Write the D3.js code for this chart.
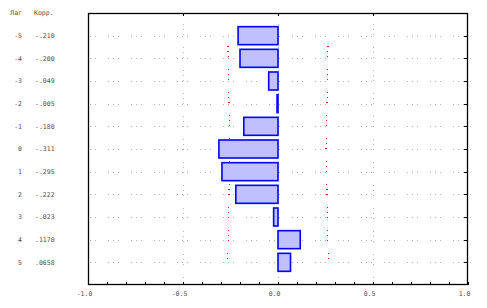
<!DOCTYPE html>
<html><head><meta charset="utf-8">
<script src="https://cdn.jsdelivr.net/npm/d3@7"></script>
<style>body{margin:0;background:#fff}svg{display:block}</style>
</head><body><svg id="c" width="487" height="308"></svg>
<script>
const lags = [-5,-4,-3,-2,-1,0,1,2,3,4,5];
const corrLabels = ["-.210","-.200","-.049","-.005","-.180","-.311","-.295","-.222","-.023",".1170",".0658"];
const corrValues = [-0.210,-0.200,-0.049,-0.005,-0.180,-0.311,-0.295,-0.222,-0.023,0.1170,0.0658];
const confLimits = [0.264,0.262,0.260,0.258,0.256,0.253,0.256,0.258,0.260,0.262,0.266];
const xTicks = [-1.0,-0.5,0.0,0.5,1.0];
const xTickLabels = ["-1.0","-0.5","0.0","0.5","1.0"];
const headers = ["Лаг","Корр."];

const svg = d3.select("#c");
const L=88,R=468,T=13,B=285;
const x = d3.scaleLinear().domain([-1,1]).range([L,R]);
const y = d3.scaleLinear().domain([-6,6]).range([T,B]);
const font = "'DejaVu Sans Mono', monospace";
const txtCol = "#505050";

const dash = "1,4,1,4,1,12";
svg.append("g").selectAll("line").data(lags).join("line")
  .attr("x1",L).attr("x2",R).attr("y1",d=>Math.round(y(d))+0.5).attr("y2",d=>Math.round(y(d))+0.5)
  .attr("stroke","#b4b4b4").attr("stroke-width",1).attr("stroke-dasharray",dash).attr("stroke-dashoffset",3)
  .attr("shape-rendering","crispEdges");
svg.append("g").selectAll("line").data([-0.5,0,0.5]).join("line")
  .attr("x1",d=>Math.round(x(d))+0.5).attr("x2",d=>Math.round(x(d))+0.5).attr("y1",T).attr("y2",B)
  .attr("stroke","#b4b4b4").attr("stroke-width",1).attr("stroke-dasharray",dash).attr("stroke-dashoffset",12)
  .attr("shape-rendering","crispEdges");

const lineL = d3.line().x((d,i)=>x(-confLimits[i])).y((d)=>y(d));
const lineR = d3.line().x((d,i)=>x(confLimits[i])).y((d)=>y(d));
[lineL,lineR].forEach(ln=>{
  svg.append("path").attr("d",ln(lags)).attr("fill","none")
    .attr("stroke","#ff0000").attr("stroke-width",1.2).attr("stroke-dasharray",dash).attr("stroke-dashoffset",13)
    .attr("shape-rendering","crispEdges");
});

const bh = 18;
svg.append("g").selectAll("rect").data(lags).join("rect")
  .attr("x",(d,i)=>Math.min(x(0),x(corrValues[i])))
  .attr("width",(d,i)=>Math.abs(x(corrValues[i])-x(0)))
  .attr("y",d=>y(d)-bh/2).attr("height",bh)
  .attr("fill","#c0c0ff").attr("stroke","#0000ff").attr("stroke-width",1.6);

svg.append("rect").attr("x",L+0.5).attr("y",T+0.5).attr("width",R-L-1).attr("height",B-T-1)
  .attr("fill","none").attr("stroke","#000").attr("stroke-width",1.3);

const minor = d3.range(-10,11).map(v=>v/10);
svg.append("g").selectAll("line").data(minor).join("line")
  .attr("x1",d=>Math.round(x(d))+0.5).attr("x2",d=>Math.round(x(d))+0.5)
  .attr("y1",B).attr("y2",B-3).attr("stroke","#000");
svg.append("g").selectAll("line").data([-0.5,0,0.5]).join("line")
  .attr("x1",d=>Math.round(x(d))+0.5).attr("x2",d=>Math.round(x(d))+0.5)
  .attr("y1",T).attr("y2",T+3).attr("stroke","#000");
svg.append("g").selectAll("line").data(lags).join("line")
  .attr("x1",R).attr("x2",R-4).attr("y1",d=>Math.round(y(d))+0.5).attr("y2",d=>Math.round(y(d))+0.5)
  .attr("stroke","#000");

svg.append("g").selectAll("text").data(xTicks).join("text")
  .attr("x",d=>x(d)-3.5).attr("y",294).attr("dy","0.35em")
  .attr("text-anchor","middle").attr("font-family",font).attr("font-size",6.5)
  .attr("fill",txtCol).text((d,i)=>xTickLabels[i]);

svg.append("text").attr("x",22).attr("y",y(-6)).attr("dy","0.35em").attr("text-anchor","end")
  .attr("font-family",font).attr("font-size",6.5).attr("fill",txtCol).text(headers[0]);
svg.append("text").attr("x",34).attr("y",y(-6)).attr("dy","0.35em").attr("text-anchor","start")
  .attr("font-family",font).attr("font-size",6.5).attr("fill",txtCol).text(headers[1]);

svg.append("g").selectAll("text").data(lags).join("text")
  .attr("x",22).attr("y",d=>y(d)).attr("dy","0.35em").attr("text-anchor","end")
  .attr("font-family",font).attr("font-size",6.5).attr("fill",txtCol).text(d=>String(d));
svg.append("g").selectAll("text").data(lags).join("text")
  .attr("x",35).attr("y",d=>y(d)).attr("dy","0.35em").attr("text-anchor","start")
  .attr("font-family",font).attr("font-size",6.5).attr("fill",txtCol).text((d,i)=>corrLabels[i]);
</script></body></html>
